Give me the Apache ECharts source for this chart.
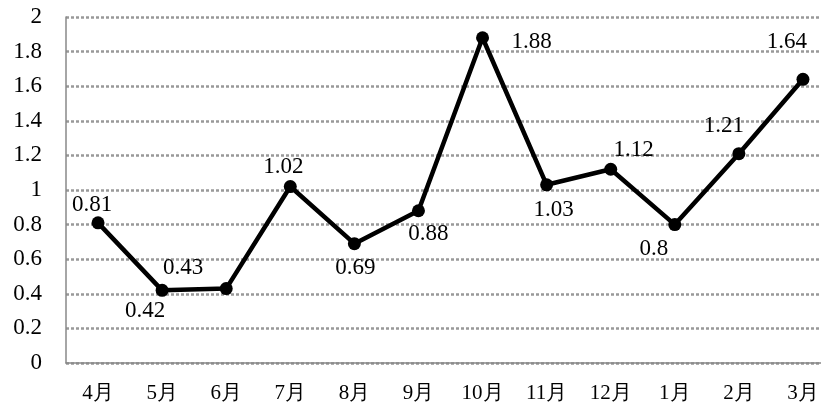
<!DOCTYPE html>
<html><head><meta charset="utf-8">
<script src="https://cdn.jsdelivr.net/npm/echarts@6/dist/echarts.min.js"></script>
<style>html,body{margin:0;padding:0;background:#fff}#c{width:821px;height:409px}</style>
</head><body><div id="c"></div>
<script>
var categories = ['4月','5月','6月','7月','8月','9月','10月','11月','12月','1月','2月','3月'];
var values = [0.81, 0.42, 0.43, 1.02, 0.69, 0.88, 1.88, 1.03, 1.12, 0.8, 1.21, 1.64];
var labelOffsets = [[-6,-18],[-17,21],[-43,-21],[-7,-20],[1,24],[10,23],[49,4],[7,25],[23,-19],[-21,24],[-15,-28],[-16,-37]];
var yTicks = [0, 0.2, 0.4, 0.6, 0.8, 1, 1.2, 1.4, 1.6, 1.8, 2];

var font = 'Liberation Serif';
var chart = echarts.init(document.getElementById('c'));
chart.setOption({
  animation: false,
  textStyle: {fontFamily: font},
  grid: {left: 66, width: 769, top: 17, bottom: 46, containLabel: false, outerBoundsMode: 'none'},
  xAxis: {
    type: 'category', data: categories, boundaryGap: true,
    axisLine: {lineStyle: {color: '#888', width: 1.5}},
    axisTick: {show: false},
    axisLabel: {color: '#000', fontSize: 21, fontFamily: font, margin: 20, interval: 0}
  },
  yAxis: {
    type: 'value', min: 0, max: 2, interval: 0.2,
    axisLine: {show: true, lineStyle: {color: '#888', width: 1.5}},
    axisTick: {show: false},
    axisLabel: {color: '#000', fontSize: 23, fontFamily: font, margin: 24,
      formatter: function(v){ var r = Math.round(v*10)/10; return yTicks.indexOf(r) >= 0 ? String(r) : ''; }},
    splitLine: {show: true, lineStyle: {color: '#999', width: 2.5, type: [3, 2]}}
  },
  series: [{
    type: 'line', data: values.map(function(v, i){
      return {value: v, label: {offset: labelOffsets[i]}};
    }),
    lineStyle: {color: '#000', width: 4.5},
    itemStyle: {color: '#000'},
    symbol: 'circle', symbolSize: 13,
    label: {show: true, position: 'inside', align: 'center', verticalAlign: 'middle',
      color: '#000', fontSize: 23, fontFamily: font,
      formatter: function(p){ return String(p.value); }}
  }]
});
</script></body></html>
